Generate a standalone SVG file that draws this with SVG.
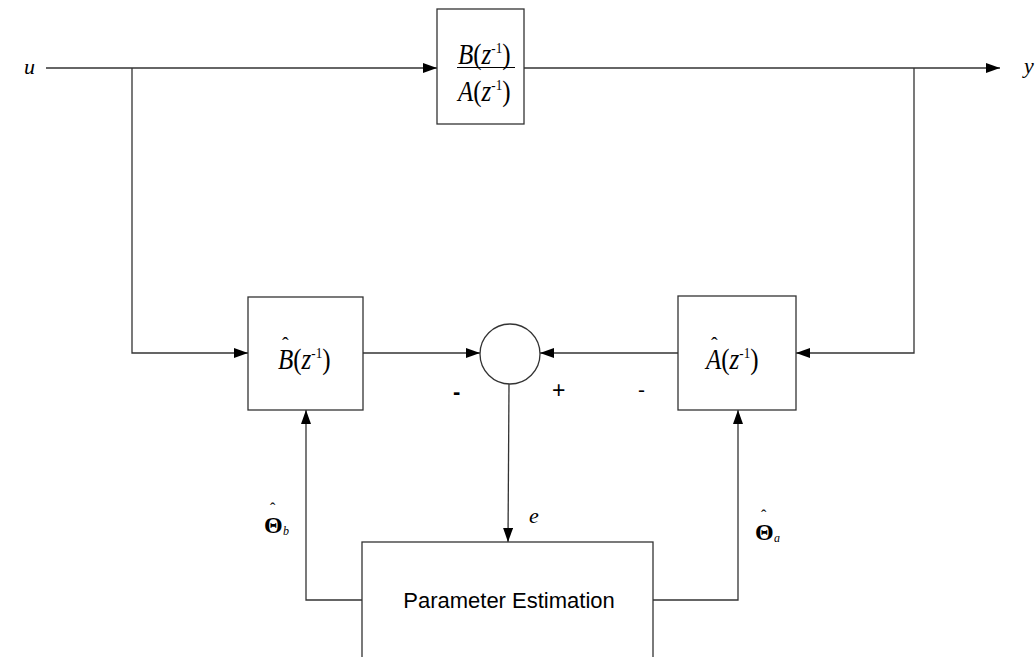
<svg xmlns="http://www.w3.org/2000/svg" width="1036" height="657" viewBox="0 0 1036 657">
<style>
.ln{fill:none;stroke:#333;stroke-width:1.3}
.bx{fill:#fff;stroke:#333;stroke-width:1.3}
.m{font-family:"Liberation Serif",serif;fill:#000}
.f{font-family:"Liberation Serif",serif;fill:#000;font-size:25px}
.i{font-style:italic}
.sup{font-size:13px}
.s{font-family:"Liberation Sans",sans-serif;fill:#000}
</style>
<defs>
<marker id="ah" markerWidth="14" markerHeight="10" refX="14" refY="5" orient="auto" markerUnits="userSpaceOnUse">
<path d="M0,0 L14,5 L0,10 Z" fill="#000"/>
</marker>
</defs>
<g id="connectors">
<line class="ln" x1="46" y1="68" x2="437" y2="68" marker-end="url(#ah)"/>
<line class="ln" x1="524" y1="68" x2="1000" y2="68" marker-end="url(#ah)"/>
<polyline class="ln" points="132,68 132,353 248,353" marker-end="url(#ah)"/>
<line class="ln" x1="363" y1="353" x2="480" y2="353" marker-end="url(#ah)"/>
<line class="ln" x1="678" y1="353" x2="540" y2="353" marker-end="url(#ah)"/>
<polyline class="ln" points="914,68 914,353 796,353" marker-end="url(#ah)"/>
<line class="ln" x1="509" y1="384" x2="508" y2="542" marker-end="url(#ah)"/>
<polyline class="ln" points="362,600 306,600 306,410" marker-end="url(#ah)"/>
<polyline class="ln" points="653,600 738,600 738,410" marker-end="url(#ah)"/>
</g>
<g id="plant">
<rect class="bx" x="437" y="9" width="87" height="115"/>
<text class="f" transform="translate(458,64) scale(1,1.15)"><tspan class="i">B</tspan>(<tspan class="i">z</tspan><tspan class="sup" dy="-10">-1</tspan><tspan dy="10">)</tspan></text>
<line x1="457" y1="67.5" x2="515" y2="67.5" stroke="#000" stroke-width="1.2"/>
<text class="f" transform="translate(458,101) scale(1,1.15)"><tspan class="i">A</tspan>(<tspan class="i">z</tspan><tspan class="sup" dy="-10">-1</tspan><tspan dy="10">)</tspan></text>
</g>
<g id="bhat">
<rect class="bx" x="248" y="297" width="115" height="113"/>
<text class="f" transform="translate(278,369) scale(1,1.15)"><tspan class="i">B</tspan>(<tspan class="i">z</tspan><tspan class="sup" dy="-10">-1</tspan><tspan dy="10">)</tspan></text>
<text class="m" x="282" y="352" style="font-size:20px">ˆ</text>
</g>
<g id="ahat">
<rect class="bx" x="678" y="296" width="118" height="114"/>
<text class="f" transform="translate(706,369) scale(1,1.15)"><tspan class="i">A</tspan>(<tspan class="i">z</tspan><tspan class="sup" dy="-10">-1</tspan><tspan dy="10">)</tspan></text>
<text class="m" x="711" y="352" style="font-size:20px">ˆ</text>
</g>
<g id="sum">
<circle class="bx" cx="510" cy="354" r="30"/>
<text class="s" x="453" y="399" style="font-size:22px;font-weight:bold">-</text>
<text class="s" x="552" y="398" style="font-size:23px">+</text>
<text class="s" x="638" y="397" style="font-size:21px">-</text>
</g>
<g id="estimation">
<rect class="bx" x="362" y="542" width="291" height="130"/>
<text class="s" x="509" y="608" style="font-size:22px" text-anchor="middle">Parameter Estimation</text>
</g>
<g id="labels">
<text class="m i" x="24" y="74" style="font-size:22px">u</text>
<text class="m i" x="1024" y="73" style="font-size:22px">y</text>
<text class="m i" x="529" y="523" style="font-size:22px">e</text>
<text class="m" x="264" y="533" style="font-size:24px;font-weight:bold">Θ</text>
<text class="m i" x="283" y="535" style="font-size:12px">b</text>
<text class="m" x="270" y="514" style="font-size:16px">ˆ</text>
<text class="m" x="755" y="540" style="font-size:24px;font-weight:bold">Θ</text>
<text class="m i" x="774" y="542" style="font-size:12px">a</text>
<text class="m" x="761" y="521" style="font-size:16px">ˆ</text>
</g>
</svg>
